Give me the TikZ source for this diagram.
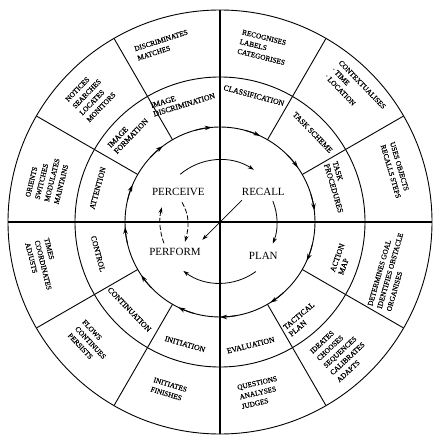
\documentclass[tikz,border=0pt]{standalone}
\usepackage{fontspec}
\setmainfont{Liberation Serif}
\newfontfamily\scanfont[FakeBold=0.7]{Liberation Serif}
\usetikzlibrary{arrows.meta}
\tikzset{
  ring/.style={draw=black,line width=0.9pt},
  spoke/.style={draw=black,line width=0.9pt},
  axis/.style={draw=black,line width=1.3pt},
  stage/.style={inner sep=1pt,font=\fontsize{11}{13}\selectfont},
  phase/.style={inner sep=1pt,align=left,font=\scanfont\fontsize{7.8}{8.8}\selectfont},
  skill/.style={inner sep=1pt,align=left,font=\scanfont\fontsize{7.3}{9.8}\selectfont},
  flow/.style={-{Stealth[length=6pt,width=4pt]},line width=0.8pt},
  dashflow/.style={flow,dash pattern=on 5pt off 2pt},
  tick/.style={-{Stealth[length=7pt,width=4.5pt]},line width=0.9pt}
}
\begin{document}
\begin{tikzpicture}[x=1pt,y=1pt]
  \useasboundingbox (-220,-222) rectangle (220,222);

  % rings and spokes
  \draw[ring] (0,0) circle[radius=212];
  \draw[ring] (0,0) circle[radius=145];
  \draw[ring] (0,0) circle[radius=95];
  \draw[axis] (-212,0) -- (212,0);
  \draw[axis] (0,-212) -- (0,212);
  \draw[spoke] (30:95) -- (30:212);
  \draw[spoke] (60:95) -- (60:212);
  \draw[spoke] (120:95) -- (120:212);
  \draw[spoke] (150:95) -- (150:212);
  \draw[spoke] (210:95) -- (210:212);
  \draw[spoke] (240:95) -- (240:212);
  \draw[spoke] (300:95) -- (300:212);
  \draw[spoke] (330:95) -- (330:212);

  % clockwise heads on the inner ring
  \draw[tick] (17:95) arc[start angle=17,end angle=7,radius=95];
  \draw[tick] (45:95) arc[start angle=45,end angle=35,radius=95];
  \draw[tick] (75:95) arc[start angle=75,end angle=65,radius=95];
  \draw[tick] (105:95) arc[start angle=105,end angle=95,radius=95];
  \draw[tick] (137:95) arc[start angle=137,end angle=127,radius=95];
  \draw[tick] (167:95) arc[start angle=167,end angle=157,radius=95];
  \draw[tick] (193:95) arc[start angle=193,end angle=183,radius=95];
  \draw[tick] (224:95) arc[start angle=224,end angle=214,radius=95];
  \draw[tick] (254:95) arc[start angle=254,end angle=244,radius=95];
  \draw[tick] (280:95) arc[start angle=280,end angle=270,radius=95];
  \draw[tick] (312:95) arc[start angle=312,end angle=302,radius=95];
  \draw[tick] (346:95) arc[start angle=346,end angle=336,radius=95];

  % middle ring
  \node[phase,rotate=17] (imgdisc) at (107:127) {IMAGE\\DISCRIMINATION};
  \node[phase,rotate=-15] (classif) at (75:131) {CLASSIFICATION};
  \node[phase,rotate=-46] (taskscheme) at (44:129) {TASK SCHEME};
  \node[phase,rotate=-73.5] (taskproc) at (16.5:123) {TASK\\PROCEDURES};
  \node[phase,rotate=70] (actionmap) at (-17:127) {ACTION\\MAP};
  \node[phase,rotate=40] (tactplan) at (-50:127) {TACTICAL\\PLAN};
  \node[phase,rotate=14] (evaluation) at (-76:127) {EVALUATION};
  \node[phase,rotate=-16] (initiation) at (254:127) {INITIATION};
  \node[phase,rotate=-46] (continuation) at (224:126) {CONTINUATION};
  \node[phase,rotate=-75] (control) at (194.6:126) {CONTROL};
  \node[phase,rotate=74.5] (attention) at (164.5:127) {ATTENTION};
  \node[phase,rotate=46] (imgform) at (136:128) {IMAGE\\FORMATION};

  % outer ring
  \node[skill,rotate=18] (discriminates) at (108:186) {DISCRIMINATES\\MATCHES};
  \node[skill,rotate=-14] (recognises) at (76:180) {RECOGNISES\\LABELS\\CATEGORISES};
  \node[skill,rotate=-46] (contextualises) at (44:188) {CONTEXTUALISES\\· TIME\\· LOCATION};
  \node[skill,rotate=-73.5] (uses) at (16.5:183) {USES OBJECTS\\RECALLS STEPS};
  \node[skill,rotate=74] (determines) at (-16:177) {DETERMINES GOAL\\IDENTIFIES OBSTACLE\\ORGANISES};
  \node[skill,rotate=43] (ideates) at (-47:177) {IDEATES\\CHOOSES\\SEQUENCES\\CALIBRATES\\ADAPTS};
  \node[skill,rotate=13] (questions) at (-77:175) {QUESTIONS\\ANALYSES\\JUDGES};
  \node[skill,rotate=-17] (initiates) at (253:175) {INITIATES\\FINISHES};
  \node[skill,rotate=-47] (flows) at (223:177) {FLOWS\\CONTINUES\\PERSISTS};
  \node[skill,rotate=-76] (times) at (193.7:182) {TIMES\\COORDINATES\\ADJUSTS};
  \node[skill,rotate=76] (orients) at (166:178) {ORIENTS\\SWITCHES\\MODULATES\\MAINTAINS};
  \node[skill,rotate=46] (notices) at (136:180) {NOTICES\\SEARCHES\\LOCATES\\MONITORS};

  % centre cycle
  \node[stage] (perceive) at (-41.7,30.5) {PERCEIVE};
  \node[stage] (recall) at (43.3,30.5) {RECALL};
  \node[stage] (plan) at (43.3,-33.5) {PLAN};
  \node[stage] (perform) at (-45,-29.7) {PERFORM};

  \draw[flow] ([shift={(1.9,12.3)}]perceive.north) arc[start angle=130,end angle=57,radius=62];
  \draw[flow] ([shift={(9.5,-4.5)}]recall.south) arc[start angle=22,end angle=-22,radius=57];
  \draw[flow] ([shift={(-7.4,-11.2)}]plan.south) arc[start angle=-54,end angle=-127,radius=61];
  \draw[dashflow] ([shift={(-11,3.5)}]perform.north) arc[start angle=201,end angle=166,radius=60];
  \draw[dashflow] ([shift={(3.7,-5.9)}]perceive.south) to[out=-60,in=75] ([shift={(10,5)}]perform.north);
  \draw[flow] ([shift={(1.1,-3.9)}]recall.south west) -- ([shift={(0.4,7)}]perform.north east);
\end{tikzpicture}
\end{document}
